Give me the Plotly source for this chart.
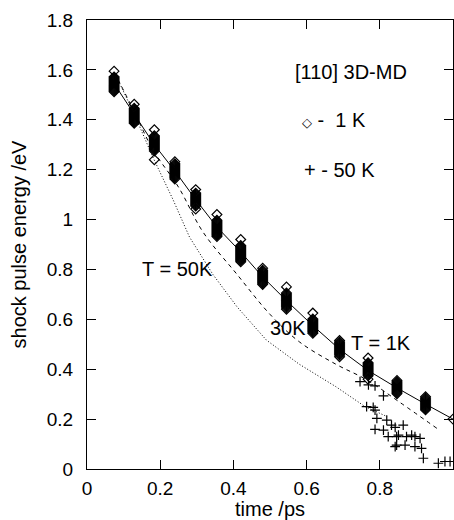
import plotly.graph_objects as go

# ---- 1 K MD data: one time per cluster, many energies per cluster ----
t1_cluster_times = [0.074, 0.129, 0.184, 0.240, 0.297, 0.355, 0.420, 0.480,
                    0.545, 0.617, 0.690, 0.768, 0.847, 0.925, 1.000]
e1_clusters = [
    [1.595, 1.572, 1.568, 1.564, 1.560, 1.556, 1.552, 1.548, 1.544, 1.540, 1.536, 1.532, 1.528, 1.524, 1.520, 1.516, 1.512],
    [1.462, 1.446, 1.442, 1.438, 1.434, 1.430, 1.426, 1.422, 1.418, 1.414, 1.410, 1.406, 1.402, 1.398, 1.394, 1.390, 1.386],
    [1.360, 1.336, 1.332, 1.328, 1.324, 1.320, 1.316, 1.312, 1.308, 1.304, 1.300, 1.296, 1.292, 1.288, 1.284, 1.280, 1.275, 1.240],
    [1.232, 1.224, 1.220, 1.216, 1.212, 1.208, 1.204, 1.200, 1.196, 1.192, 1.188, 1.184, 1.180, 1.176, 1.172, 1.168, 1.163],
    [1.120, 1.106, 1.102, 1.098, 1.094, 1.090, 1.086, 1.082, 1.078, 1.074, 1.070, 1.066, 1.062, 1.058, 1.054, 1.042],
    [1.020, 0.997, 0.993, 0.989, 0.985, 0.981, 0.977, 0.973, 0.969, 0.965, 0.961, 0.957, 0.953, 0.949, 0.945, 0.941, 0.937, 0.932],
    [0.920, 0.896, 0.892, 0.888, 0.884, 0.880, 0.876, 0.872, 0.868, 0.864, 0.860, 0.856, 0.852, 0.848, 0.844, 0.840, 0.836, 0.831],
    [0.805, 0.797, 0.793, 0.789, 0.785, 0.781, 0.777, 0.773, 0.769, 0.765, 0.761, 0.757, 0.753, 0.749, 0.745, 0.740],
    [0.730, 0.706, 0.702, 0.698, 0.694, 0.690, 0.686, 0.682, 0.678, 0.674, 0.670, 0.666, 0.662, 0.658, 0.654, 0.650, 0.645, 0.640],
    [0.625, 0.601, 0.597, 0.593, 0.589, 0.585, 0.581, 0.577, 0.573, 0.569, 0.565, 0.561, 0.557, 0.553, 0.549, 0.544],
    [0.515, 0.509, 0.505, 0.501, 0.497, 0.493, 0.489, 0.485, 0.481, 0.477, 0.473, 0.469, 0.465, 0.461, 0.457, 0.450],
    [0.445, 0.426, 0.422, 0.418, 0.414, 0.410, 0.406, 0.402, 0.398, 0.394, 0.390, 0.386, 0.382, 0.378, 0.374, 0.360],
    [0.355, 0.350, 0.346, 0.342, 0.338, 0.334, 0.330, 0.326, 0.322, 0.318, 0.314, 0.310, 0.306, 0.302],
    [0.290, 0.285, 0.281, 0.277, 0.273, 0.269, 0.265, 0.261, 0.257, 0.253, 0.249, 0.245, 0.241, 0.237],
    [0.200],
]

# ---- T = 1K model curve (solid) ----
t_1k = [0.074, 0.129, 0.184, 0.240, 0.297, 0.355, 0.420, 0.480, 0.545, 0.617, 0.690, 0.768, 0.847, 0.925, 1.000]
e_1k = [1.545, 1.420, 1.300, 1.195, 1.080, 0.970, 0.870, 0.770, 0.675, 0.575, 0.480, 0.395, 0.325, 0.260, 0.200]

# ---- 30K curve (dashed) ----
t_30k = [0.075, 0.130, 0.180, 0.250, 0.317, 0.410, 0.500, 0.580, 0.680, 0.765, 0.855, 0.956]
e_30k = [1.590, 1.430, 1.280, 1.130, 0.950, 0.780, 0.620, 0.510, 0.420, 0.357, 0.267, 0.163]

# ---- 50K curve (dotted) ----
t_50k = [0.075, 0.130, 0.180, 0.235, 0.280, 0.344, 0.410, 0.490, 0.580, 0.680, 0.760, 0.820]
e_50k = [1.590, 1.420, 1.250, 1.080, 0.930, 0.780, 0.650, 0.517, 0.420, 0.330, 0.250, 0.210]

# ---- 50 K MD data (crosses) ----
t_50 = [0.746, 0.769, 0.787, 0.810, 0.764, 0.782, 0.787, 0.792, 0.787, 0.810,
        0.819, 0.832, 0.842, 0.823, 0.846, 0.864, 0.851, 0.873, 0.887, 0.896,
        0.910, 0.842, 0.846, 0.869, 0.896, 0.914, 0.919, 0.960, 0.978, 0.992]
e_50 = [0.350, 0.337, 0.333, 0.293, 0.250, 0.247, 0.236, 0.203, 0.159, 0.156,
        0.196, 0.176, 0.167, 0.130, 0.130, 0.176, 0.136, 0.130, 0.136, 0.130,
        0.123, 0.090, 0.096, 0.096, 0.090, 0.083, 0.043, 0.023, 0.030, 0.030]

x_ticks = [0, 0.2, 0.4, 0.6, 0.8, 1]
y_ticks = [0, 0.2, 0.4, 0.6, 0.8, 1, 1.2, 1.4, 1.6, 1.8]

FONT = "Liberation Sans, Arial, Helvetica, sans-serif"

fig = go.Figure()

for tc, ec in zip(t1_cluster_times, e1_clusters):
    fig.add_trace(go.Scatter(
        x=[tc] * len(ec), y=ec, mode="markers",
        marker=dict(symbol="diamond-open", size=7.5, color="black", line=dict(width=1.2, color="black")),
        showlegend=False))

fig.add_trace(go.Scatter(x=t_1k, y=e_1k, mode="lines",
                         line=dict(color="black", width=1), showlegend=False))
fig.add_trace(go.Scatter(x=t_30k, y=e_30k, mode="lines", line_shape="spline",
                         line=dict(color="black", width=1, dash="4px,4px"), showlegend=False))
fig.add_trace(go.Scatter(x=t_50k, y=e_50k, mode="lines",
                         line=dict(color="black", width=1, dash="1px,2px"), showlegend=False))
fig.add_trace(go.Scatter(x=t_50, y=e_50, mode="markers",
                         marker=dict(symbol="cross-thin-open", size=7, color="black",
                                     line=dict(width=1.2, color="black")),
                         showlegend=False))

annos = [
    ("[110] 3D-MD", 0.72, 1.59),
    ("<span style='font-size:13px'>◇</span>&nbsp;-&nbsp; 1 K", 0.675, 1.40),
    ("+ - 50 K", 0.69, 1.20),
    ("T = 50K", 0.247, 0.80),
    ("30K", 0.55, 0.565),
    ("T = 1K", 0.803, 0.505),
]
for txt, ax_, ay_ in annos:
    fig.add_annotation(x=ax_, y=ay_, xref="x", yref="y", text=txt, showarrow=False,
                       font=dict(family=FONT, size=20, color="black"))

axis_common = dict(showgrid=False, zeroline=False, showline=True, linecolor="black", linewidth=1.3,
                   mirror="ticks", ticks="inside", ticklen=9, tickwidth=1.2, tickcolor="black",
                   tickfont=dict(family=FONT, size=19, color="black"))

fig.update_xaxes(range=[0, 1], tickvals=x_ticks, ticklabelstandoff=2,
                 title=dict(text="time /ps", font=dict(family=FONT, size=20, color="black"), standoff=0),
                 **axis_common)
fig.update_yaxes(range=[0, 1.8], tickvals=y_ticks, ticklabelstandoff=9,
                 title=dict(text="shock pulse energy /eV", font=dict(family=FONT, size=20, color="black"), standoff=14),
                 **axis_common)

fig.update_layout(width=454, height=520, margin=dict(l=87, r=1, t=20, b=51),
                  paper_bgcolor="white", plot_bgcolor="white",
                  font=dict(family=FONT, color="black"))

fig.write_html("out.html")
